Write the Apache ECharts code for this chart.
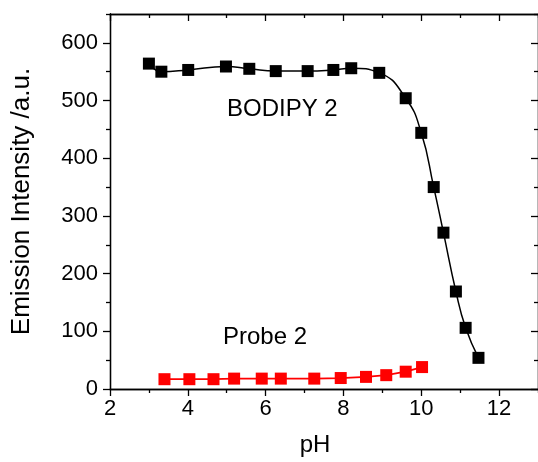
<!DOCTYPE html>
<html>
<head>
<meta charset="utf-8">
<script src="https://cdn.jsdelivr.net/npm/echarts@6/dist/echarts.min.js"></script>
<style>html,body{margin:0;padding:0;background:#fff;}#c{width:538px;height:462px;}</style>
</head>
<body>
<div id="c"></div>
<script>
// Data
var bodipyPH = [3.0, 3.32, 4.01, 4.98, 5.58, 6.26, 7.08, 7.74, 8.2, 8.92, 9.6, 10.0, 10.32, 10.57, 10.89, 11.14, 11.47];
var bodipyI  = [564, 550, 553, 559, 555, 551, 551, 553, 556, 548, 504, 444, 350, 271, 169, 106, 54];
var probePH  = [3.40, 4.04, 4.66, 5.19, 5.90, 6.39, 7.25, 7.93, 8.58, 9.10, 9.60, 10.02];
var probeI   = [17, 17, 17, 18, 18, 18, 18, 19, 21, 24, 30, 38];
var xMajor = [2, 4, 6, 8, 10, 12];
var xMinor = [3, 5, 7, 9, 11, 13];
var yMajor = [0, 100, 200, 300, 400, 500, 600];
var yMinor = [50, 150, 250, 350, 450, 550, 650];
var xRange = [2, 13];
var yRange = [0, 650];
var seriesNames = ['BODIPY 2', 'Probe 2'];
var xTitle = 'pH';
var yTitle = 'Emission Intensity /a.u.';

function zip(a, b) { return a.map(function (v, i) { return [v, b[i]]; }); }

var FONT = '"Liberation Sans", Arial, sans-serif';
var lineStyle = { color: '#000', width: 1.3 };

function xAx(pos, ticks, len, inside, labels, name) {
  return {
    type: 'value', position: pos, min: xRange[0], max: xRange[1],
    splitLine: { show: false },
    axisLine: { show: true, onZero: false, lineStyle: lineStyle },
    axisTick: { show: true, inside: inside, length: len, customValues: ticks, lineStyle: lineStyle },
    axisLabel: labels ? { show: true, customValues: ticks, margin: 9, fontSize: 22, color: '#000', fontFamily: FONT } : { show: false },
    name: name || '', nameLocation: 'middle', nameGap: 44,
    nameTextStyle: { fontSize: 24, color: '#000', fontFamily: FONT, padding: [0, 18, 0, 0] }
  };
}
function yAx(pos, ticks, len, inside, labels, name) {
  return {
    type: 'value', position: pos, min: yRange[0], max: yRange[1],
    splitLine: { show: false },
    axisLine: { show: true, onZero: false, lineStyle: lineStyle },
    axisTick: { show: true, inside: inside, length: len, customValues: ticks, lineStyle: lineStyle },
    axisLabel: labels ? { show: true, customValues: ticks, margin: 12, fontSize: 22, color: '#000', fontFamily: FONT } : { show: false },
    name: name || '', nameLocation: 'middle', nameGap: 75, nameRotate: 90,
    nameTextStyle: { fontSize: 26, color: '#000', fontFamily: FONT }
  };
}

var chart = echarts.init(document.getElementById('c'), null, { renderer: 'canvas' });
chart.setOption({
  animation: false,
  backgroundColor: '#fff',
  grid: { left: 110, right: -4, top: 14, bottom: 73, containLabel: false },
  xAxis: [
    xAx('bottom', xMajor, 7, false, true, xTitle),
    xAx('bottom', xMinor, 4, false, false),
    xAx('top', xMajor, 7, true, false),
    xAx('top', xMinor, 4, true, false)
  ],
  yAxis: [
    yAx('left', yMajor, 7, false, true, yTitle),
    yAx('left', yMinor, 4, false, false),
    yAx('right', yMajor, 7, true, false),
    yAx('right', yMinor, 4, true, false)
  ],
  series: [
    {
      name: seriesNames[0], type: 'line', xAxisIndex: 0, yAxisIndex: 0,
      data: zip(bodipyPH, bodipyI),
      smooth: 0.5,
      symbol: 'rect', symbolSize: 12,
      itemStyle: { color: '#000' },
      lineStyle: { color: '#000', width: 1.5 }
    },
    {
      name: seriesNames[1], type: 'line', xAxisIndex: 0, yAxisIndex: 0,
      data: zip(probePH, probeI),
      symbol: 'rect', symbolSize: 12,
      itemStyle: { color: '#ff0000' },
      lineStyle: { color: '#ff0000', width: 1.8 }
    }
  ],
  graphic: [
    { type: 'text', left: 227, top: 97, style: { text: seriesNames[0], fontSize: 24, fill: '#000', fontFamily: FONT } },
    { type: 'text', left: 223, top: 325, style: { text: seriesNames[1], fontSize: 24, fill: '#000', fontFamily: FONT } }
  ]
});
</script>
</body>
</html>
